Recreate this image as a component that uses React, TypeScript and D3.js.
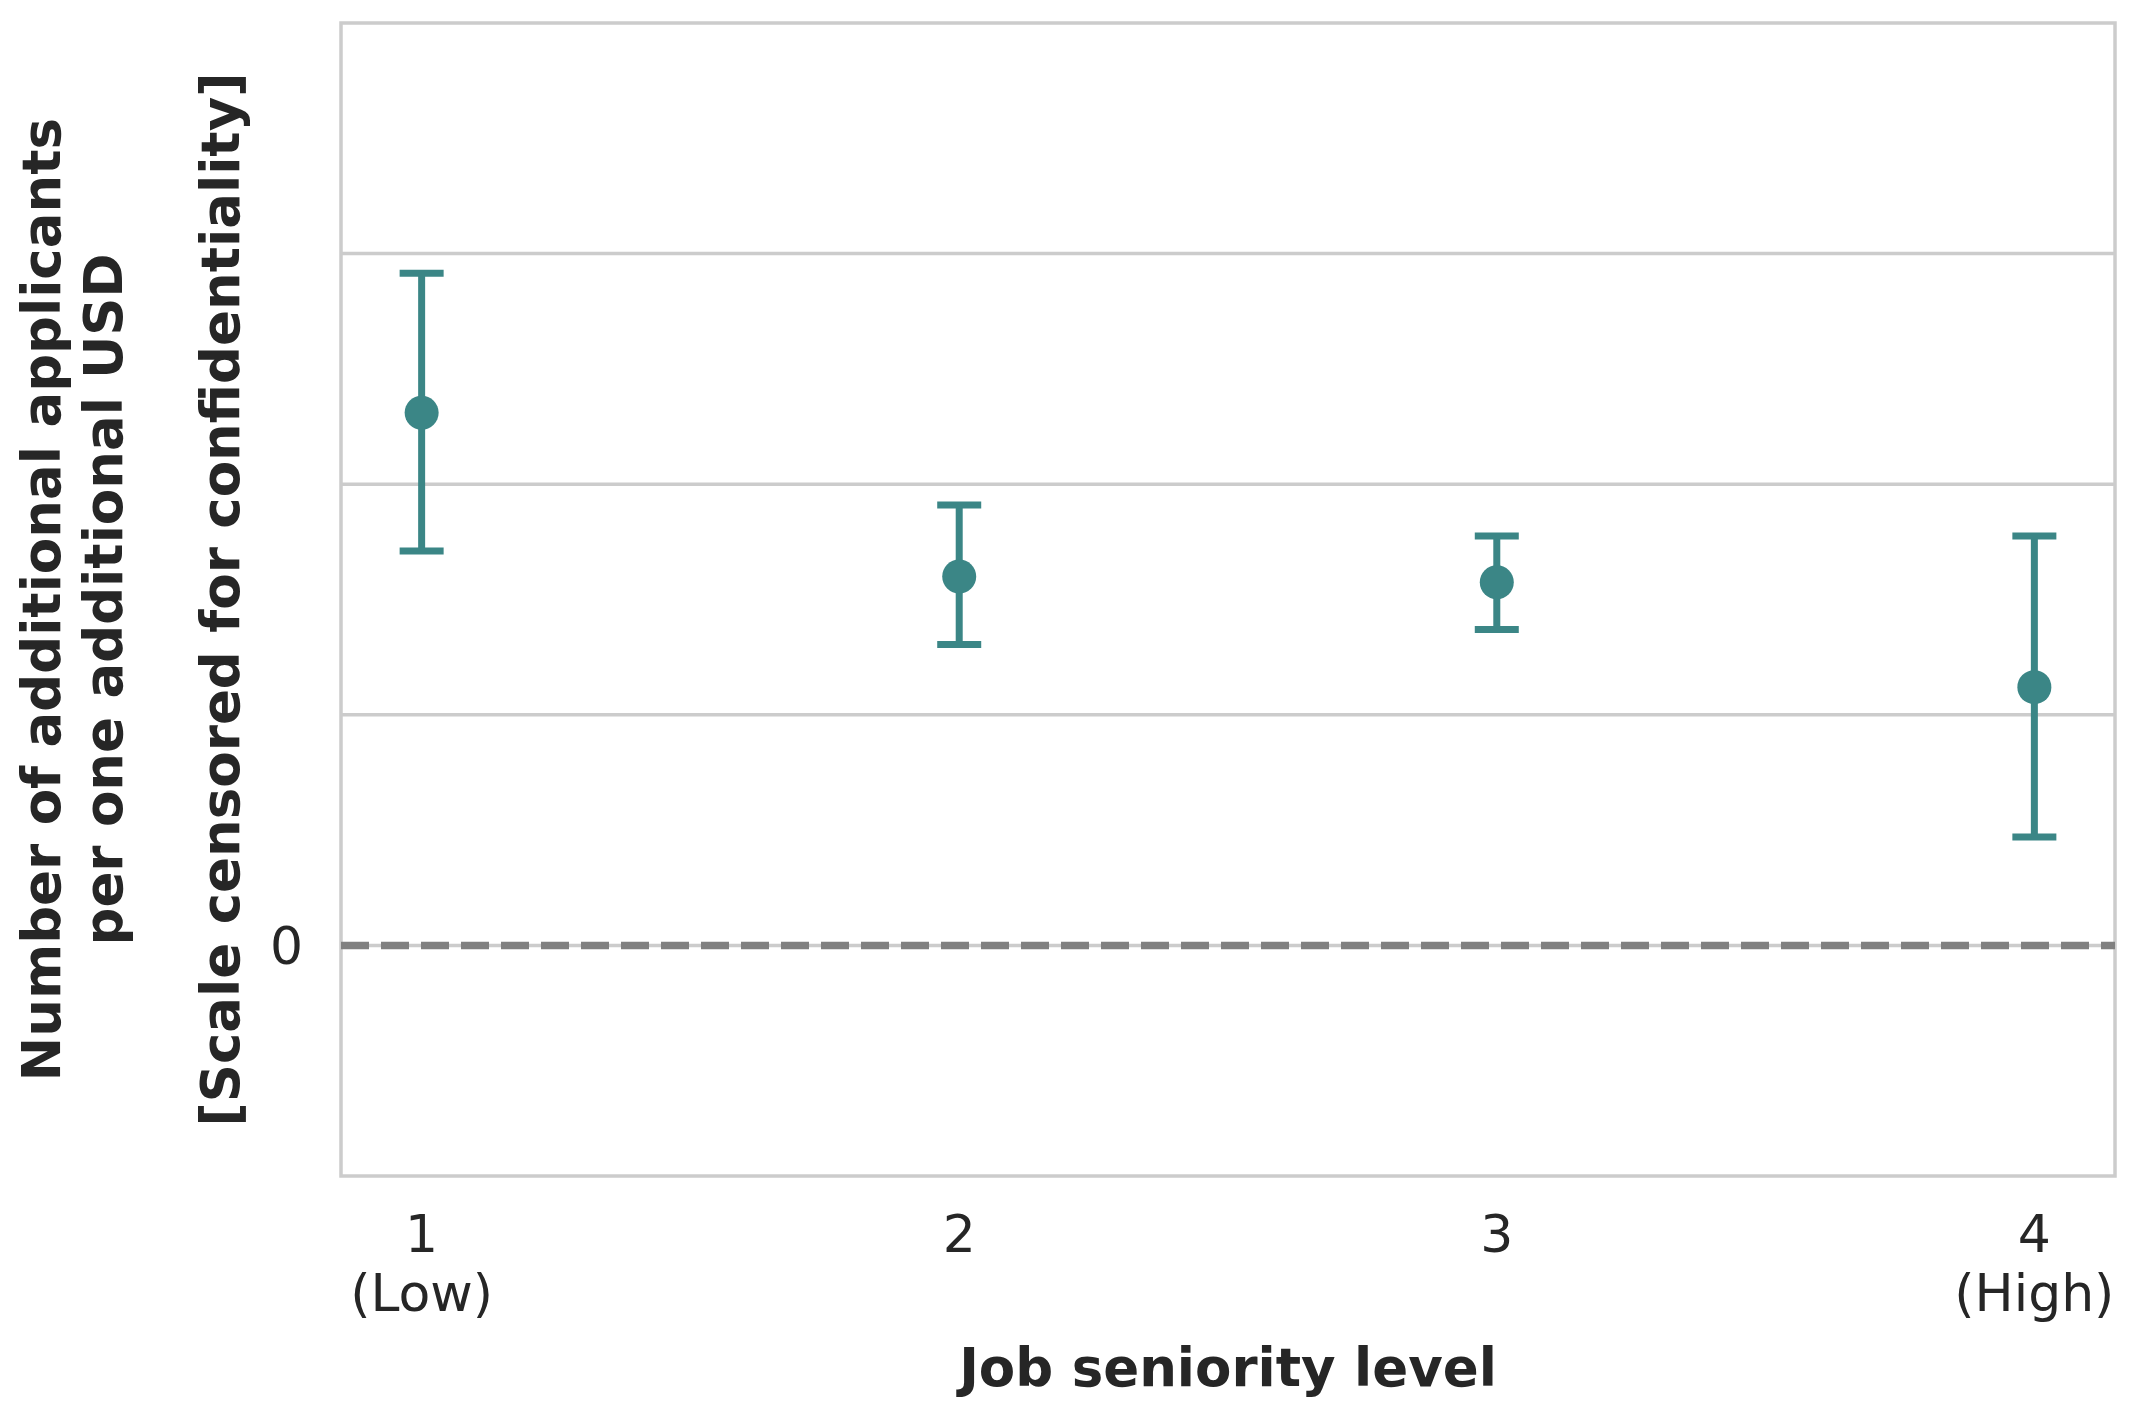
import { useEffect, useRef } from 'react';
import * as d3 from 'd3';

// seniority levels and the point estimates with their confidence bounds
const levels = ['1', '2', '3', '4'];
const levelNotes = ['(Low)', '', '', '(High)'];
const estimates = [2.31, 1.6, 1.575, 1.12];
const ciLower = [1.71, 1.305, 1.37, 0.47];
const ciUpper = [2.915, 1.91, 1.775, 1.775];

// the scale is censored: gridlines stay, only zero is labelled
const gridValues = [0, 1, 2, 3];
const yTickLabels = [{ value: 0, label: '0' }];

const yLabelLines = [
  'Number of additional applicants',
  'per one additional USD',
  '[Scale censored for confidentiality]',
];
const xLabel = 'Job seniority level';

export default function App() {
  const svgRef = useRef<SVGSVGElement>(null);

  useEffect(() => {
    if (!svgRef.current) return;

    const svg = d3.select(svgRef.current);
    svg.selectAll('*').remove();

    const width = 2148;
    const height = 1406;
    const margin = { top: 23, right: 33, bottom: 230, left: 341 };
    const left = margin.left;
    const right = width - margin.right;
    const top = margin.top;
    const bottom = height - margin.bottom;

    const font = '"DejaVu Sans", sans-serif';
    const textColor = '#262626';
    const teal = '#3b8686';
    const grid = '#cccccc';

    const xScale = d3.scaleLinear().domain([-0.15, 3.15]).range([left, right]);
    const yScale = d3.scaleLinear().domain([-1, 4]).range([bottom, top]);

    const data = levels.map((level, i) => ({
      i,
      level,
      note: levelNotes[i],
      est: estimates[i],
      lo: ciLower[i],
      hi: ciUpper[i],
    }));

    // gridlines
    svg.append('g')
      .selectAll('line')
      .data(gridValues)
      .enter()
      .append('line')
      .attr('x1', left)
      .attr('x2', right)
      .attr('y1', d => yScale(d))
      .attr('y2', d => yScale(d))
      .attr('stroke', grid)
      .attr('stroke-width', 3.5);

    // frame
    svg.append('rect')
      .attr('x', left)
      .attr('y', top)
      .attr('width', right - left)
      .attr('height', bottom - top)
      .attr('fill', 'none')
      .attr('stroke', grid)
      .attr('stroke-width', 3.5);

    // zero reference line
    svg.append('line')
      .attr('x1', left)
      .attr('x2', right)
      .attr('y1', yScale(0))
      .attr('y2', yScale(0))
      .attr('stroke', '#808080')
      .attr('stroke-width', 7.5)
      .attr('stroke-dasharray', '28,12');

    // error bars
    const bars = svg.append('g').attr('stroke', teal).attr('stroke-width', 7);
    bars.selectAll('.ci')
      .data(data)
      .enter()
      .append('line')
      .attr('x1', d => xScale(d.i))
      .attr('x2', d => xScale(d.i))
      .attr('y1', d => yScale(d.lo))
      .attr('y2', d => yScale(d.hi));

    const capHalf = 22;
    ['lo', 'hi'].forEach(key => {
      bars.selectAll(`.cap-${key}`)
        .data(data)
        .enter()
        .append('line')
        .attr('x1', d => xScale(d.i) - capHalf)
        .attr('x2', d => xScale(d.i) + capHalf)
        .attr('y1', d => yScale(d[key as 'lo' | 'hi']))
        .attr('y2', d => yScale(d[key as 'lo' | 'hi']));
    });

    // point estimates
    svg.append('g')
      .selectAll('circle')
      .data(data)
      .enter()
      .append('circle')
      .attr('cx', d => xScale(d.i))
      .attr('cy', d => yScale(d.est))
      .attr('r', 17)
      .attr('fill', teal);

    // x tick labels
    const xTicks = svg.append('g')
      .attr('font-family', font)
      .attr('font-size', 52)
      .attr('fill', textColor)
      .attr('text-anchor', 'middle');
    xTicks.selectAll('.tick')
      .data(data)
      .enter()
      .append('text')
      .attr('x', d => xScale(d.i))
      .attr('y', 1252)
      .text(d => d.level);
    xTicks.selectAll('.note')
      .data(data.filter(d => d.note))
      .enter()
      .append('text')
      .attr('x', d => xScale(d.i))
      .attr('y', 1311)
      .text(d => d.note);

    // y tick labels
    svg.append('g')
      .selectAll('text')
      .data(yTickLabels)
      .enter()
      .append('text')
      .attr('x', left - 38)
      .attr('y', d => yScale(d.value))
      .attr('dy', '0.35em')
      .attr('text-anchor', 'end')
      .attr('font-family', font)
      .attr('font-size', 52)
      .attr('fill', textColor)
      .text(d => d.label);

    // axis labels
    svg.append('text')
      .attr('x', (left + right) / 2)
      .attr('y', 1386)
      .attr('text-anchor', 'middle')
      .attr('font-family', font)
      .attr('font-size', 53)
      .attr('font-weight', 'bold')
      .attr('fill', textColor)
      .text(xLabel);

    const yMid = (top + bottom) / 2;
    const lineX = [41, 103, 220];
    svg.append('g')
      .selectAll('text')
      .data(yLabelLines)
      .enter()
      .append('text')
      .attr('transform', (_, i) => `translate(${lineX[i]},${yMid}) rotate(-90)`)
      .attr('dy', '0.35em')
      .attr('text-anchor', 'middle')
      .attr('font-family', font)
      .attr('font-size', 53)
      .attr('font-weight', 'bold')
      .attr('fill', textColor)
      .text(d => d);
  }, []);

  return (
    <>
      <style>{'body{margin:0}'}</style>
      <svg ref={svgRef} width={2148} height={1406} style={{ display: 'block', background: '#fff' }} />
    </>
  );
}
